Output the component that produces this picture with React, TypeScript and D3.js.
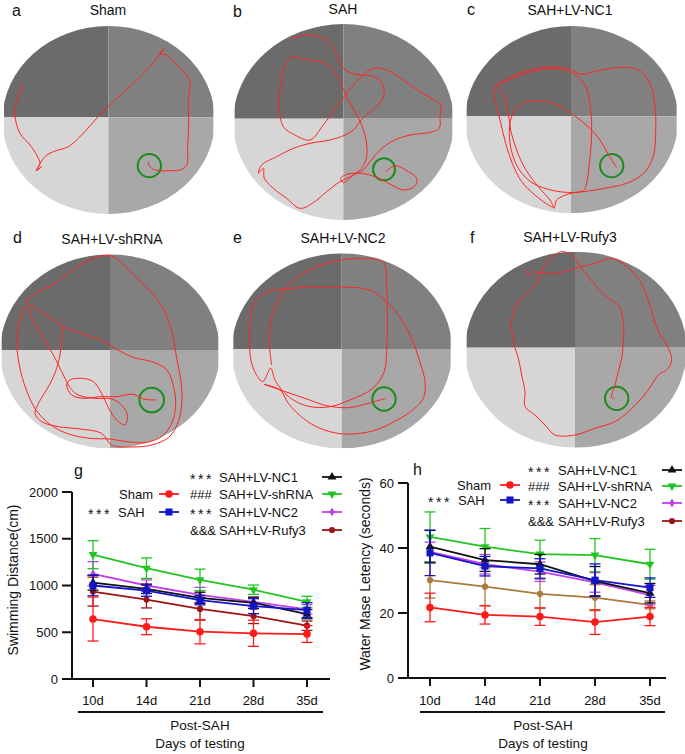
import React from 'react';
import * as d3 from 'd3';

// ---------- data ----------
const days = ['10d', '14d', '21d', '28d', '35d'];
const distanceTicks = [0, 500, 1000, 1500, 2000];
const latencyTicks = [0, 20, 40, 60];

const groupNames = ['Sham', 'SAH', 'SAH+LV-NC1', 'SAH+LV-shRNA', 'SAH+LV-NC2', 'SAH+LV-Rufy3'];
const groupSig = ['', '***', '***', '###', '***', '&&&'];

// Swimming distance (cm)
const distSham = [641, 559, 506, 489, 481];
const distShamErr = [235, 85, 130, 140, 90];
const distSAH = [1000, 945, 843, 779, 736];
const distSAHErr = [110, 60, 50, 80, 80];
const distNC1 = [1030, 965, 868, 815, 694];
const distNC1Err = [80, 50, 60, 60, 50];
const distShRNA = [1330, 1185, 1060, 955, 825];
const distShRNAErr = [150, 110, 115, 50, 60];
const distNC2 = [1125, 1000, 900, 825, 745];
const distNC2Err = [130, 60, 80, 50, 50];
const distRufy3 = [935, 850, 750, 673, 570];
const distRufy3Err = [155, 90, 120, 80, 50];

// Water maze latency (s)
const latSham = [21.7, 19.4, 18.9, 17.2, 18.9];
const latShamErr = [4.4, 2.8, 2.7, 3.8, 2.8];
const latSAH = [38.5, 34.4, 33.7, 30.1, 27.8];
const latSAHErr = [7, 3, 3, 5, 3];
const latNC1 = [40.4, 36.3, 35.0, 29.8, 26.1];
const latNC1Err = [5, 3.5, 3, 4.5, 3];
const latShRNA = [43.4, 40.4, 38.1, 37.8, 35.0];
const latShRNAErr = [7.7, 5.6, 4.3, 5.1, 4.6];
const latNC2 = [38.8, 35.0, 32.7, 29.4, 25.5];
const latNC2Err = [3, 3, 3, 3, 3];
const latRufy3 = [30.1, 28.1, 25.9, 24.7, 22.5];
const latRufy3Err = [5.5, 5.8, 4.5, 4, 1.2];

// Tracking data: swim paths in camera frame coordinates (0..690)
const poolTitles = ['Sham', 'SAH', 'SAH+LV-NC1', 'SAH+LV-shRNA', 'SAH+LV-NC2', 'SAH+LV-Rufy3'];
const panelLetters = ['a', 'b', 'c', 'd', 'e', 'f'];

const trackA = [[70,250],[55,285],[45,345],[60,400],[90,435],[110,465],[120,490],[108,512],[125,500],[112,508],[135,470],[160,455],[205,440],[245,405],[290,355],[340,305],[395,255],[445,205],[478,165],[492,145],[480,162],[500,165],[530,195],[555,220],[570,242],[565,300],[566,370],[563,440],[560,495],[540,510],[505,512],[475,512],[455,505],[445,492],[447,485]];
const trackB = [[185,115],[230,105],[275,112],[305,135],[322,170],[340,205],[375,222],[425,228],[455,248],[462,285],[445,315],[420,335],[395,358],[372,388],[345,405],[300,420],[240,430],[190,445],[140,470],[95,495],[85,520],[100,505],[103,535],[130,565],[170,595],[210,625],[250,608],[290,575],[330,545],[370,525],[395,505],[410,470],[408,420],[395,375],[375,335],[350,290],[330,245],[305,205],[270,185],[220,178],[185,170],[165,195],[152,250],[148,320],[160,380],[195,405],[240,420],[280,375],[320,320],[350,280],[390,235],[430,205],[470,210],[520,240],[570,275],[612,300],[632,315],[630,350],[628,385],[595,398],[540,405],[490,422],[450,450],[420,485],[400,510],[370,525],[340,548],[332,535],[355,522],[395,520],[440,532],[480,552],[520,570],[555,558],[560,535],[530,512],[495,497],[468,515]];
const trackC = [[300,625],[280,615],[240,585],[200,545],[172,490],[152,430],[135,360],[120,300],[118,262],[135,250],[180,225],[235,208],[300,200],[350,210],[375,222],[440,210],[500,202],[550,210],[585,250],[600,320],[602,400],[595,468],[568,518],[520,548],[460,563],[400,573],[348,580],[305,600],[298,622],[285,600],[250,560],[210,505],[185,450],[168,395],[160,340],[150,290],[128,255],[150,245],[200,225],[262,208],[320,208],[362,225],[390,255],[405,310],[410,375],[408,440],[402,500],[395,548],[385,572],[335,577],[280,568],[228,546],[190,505],[170,455],[163,400],[170,350],[192,318],[230,302],[275,305],[320,322],[362,350],[402,382],[435,420],[458,460],[478,492],[485,503]];
const trackD = [[188,300],[183,370],[170,430],[148,480],[118,530],[105,565],[125,590],[175,605],[240,612],[305,625],[335,660],[395,666],[455,660],[505,638],[532,598],[545,540],[543,470],[530,400],[518,330],[498,268],[468,218],[420,168],[378,128],[345,97],[312,92],[262,108],[212,140],[162,178],[115,200],[78,232],[95,242],[135,268],[185,302],[245,326],[305,346],[352,374],[402,398],[455,410],[500,434],[520,482],[527,540],[515,595],[488,632],[440,652],[380,650],[330,642],[270,640],[200,625],[150,598],[108,555],[78,492],[58,420],[50,345],[62,280],[80,245],[100,290],[130,340],[160,390],[185,440],[200,470],[210,488],[235,510],[285,520],[335,522],[365,540],[382,570],[375,600],[350,585],[325,548],[305,505],[280,470],[245,460],[210,465],[200,480],[215,510],[250,520],[300,515],[350,515],[400,508],[430,522],[470,525]];
const trackE = [[125,420],[118,350],[128,265],[165,192],[220,145],[300,112],[408,100],[460,112],[470,180],[472,280],[470,380],[462,442],[428,490],[360,525],[300,545],[240,545],[195,528],[160,500],[135,465],[122,430],[98,470],[68,425],[58,350],[62,280],[75,228],[115,200],[185,190],[255,186],[335,186],[420,196],[480,240],[520,292],[550,352],[570,412],[585,470],[580,520],[542,560],[492,590],[438,615],[380,626],[330,626],[270,610],[220,580],[175,535],[150,495],[102,478],[160,498],[225,520],[290,542],[355,548],[415,535],[450,525],[468,520]];
const trackF = [[212,135],[222,152],[232,142],[280,145],[330,140],[380,125],[430,112],[470,100],[510,120],[550,160],[575,210],[590,260],[610,320],[635,360],[650,400],[640,430],[610,450],[590,480],[560,520],[520,560],[480,590],[420,610],[360,630],[300,630],[270,600],[240,570],[210,545],[210,500],[200,450],[190,400],[175,350],[170,290],[180,250],[200,220],[240,180],[270,120],[300,90],[320,80],[350,90],[380,130],[420,180],[460,220],[490,240],[505,290],[505,350],[500,400],[490,440],[480,480],[470,518],[478,520]];
const tracks = [trackA, trackB, trackC, trackD, trackE, trackF];
// platform (goal) position in camera frame: x, y, radius
const goals = [[448,497,35],[462,508,33],[470,497,35],[455,525,37],[462,522,35],[485,520,35]];

// ---------- layout ----------
const FONT = 'Liberation Sans, Arial, Helvetica, sans-serif';
const poolLayout = [
  { ox: 0, oy: 0, left: 12, right: 640, top: 78, bottom: 642, divX: 325, divY: 352, titleX: 108, titleY: 15, letterX: 12, letterY: 16 },
  { ox: 230, oy: 0, left: 14, right: 667, top: 72, bottom: 660, divX: 340, divY: 356, titleX: 343, titleY: 14, letterX: 233, letterY: 17 },
  { ox: 455, oy: 0, left: 35, right: 665, top: 78, bottom: 640, divX: 348, divY: 349, titleX: 570, titleY: 15, letterX: 467, letterY: 15 },
  { ox: 0, oy: 225, left: 5, right: 655, top: 88, bottom: 670, divX: 330, divY: 375, titleX: 112, titleY: 244, letterX: 13, letterY: 243 },
  { ox: 230, oy: 225, left: 10, right: 662, top: 85, bottom: 670, divX: 335, divY: 372, titleX: 343, titleY: 243, letterX: 233, letterY: 243 },
  { ox: 455, oy: 225, left: 35, right: 690, top: 80, bottom: 668, divX: 360, divY: 368, titleX: 570, titleY: 242, letterX: 470, letterY: 243 },
];

function Pool({ idx }: { idx: number }) {
  const L = poolLayout[idx];
  const sx = d3.scaleLinear().domain([0, 690]).range([L.ox, L.ox + 230]);
  const sy = d3.scaleLinear().domain([0, 690]).range([L.oy, L.oy + 230]);
  const x0 = sx(L.left), x1 = sx(L.right), y0 = sy(L.top), y1 = sy(L.bottom);
  const dx = sx(L.divX), dy = sy(L.divY);
  const cx = (x0 + x1) / 2, cy = (y0 + y1) / 2;
  const rx = ((x1 - x0) / 2) * 1.015, ry = (y1 - y0) / 2;
  const clipId = `poolclip${idx}`;
  const line = d3.line<number[]>().x(d => sx(d[0])).y(d => sy(d[1])).curve(d3.curveCatmullRom.alpha(0.5));
  const g = goals[idx];
  return (
    <g>
      <defs>
        <clipPath id={clipId}>
          <ellipse cx={cx} cy={cy} rx={rx} ry={ry} />
        </clipPath>
      </defs>
      <g clipPath={`url(#${clipId})`}>
        <rect x={x0} y={y0} width={dx - x0} height={dy - y0} fill="#6b6b6b" />
        <rect x={dx} y={y0} width={x1 - dx} height={dy - y0} fill="#808080" />
        <rect x={x0} y={dy} width={dx - x0} height={y1 - dy} fill="#d6d6d6" />
        <rect x={dx} y={dy} width={x1 - dx} height={y1 - dy} fill="#a8a8a8" />
      </g>
      <circle cx={sx(g[0])} cy={sy(g[1])} r={sx(g[2]) - sx(0)} fill="none" stroke="#1c8c1c" strokeWidth={2} />
      <path d={line(tracks[idx] as number[][]) || ''} fill="none" stroke="#ff2525" strokeWidth={1} />
      <text x={L.titleX} y={L.titleY} textAnchor="middle" fontSize={14} fontFamily={FONT} fill="#111">{poolTitles[idx]}</text>
      <text x={L.letterX} y={L.letterY} fontSize={16} fontFamily={FONT} fill="#111">{panelLetters[idx]}</text>
    </g>
  );
}

// ---------- charts ----------
const colors = ['#ff1a1a', '#1414c8', '#111111', '#22c422', '#c040f0', '#9e1414'];
const symbols = [d3.symbolCircle, d3.symbolSquare, d3.symbolTriangle, d3.symbolTriangle, d3.symbolDiamond, d3.symbolCircle];
const symSizes = [45, 50, 34, 34, 24, 30];
const symRot = [0, 0, 0, 180, 0, 0];

function Marker({ i, x, y, color }: { i: number; x: number; y: number; color: string }) {
  const p = d3.symbol().type(symbols[i]).size(symSizes[i])() || '';
  return <path d={p} transform={`translate(${x},${y}) rotate(${symRot[i]})`} fill={color} />;
}

function Sig({ x, y, s }: { x: number; y: number; s: string }) {
  if (s === '***') {
    return <text x={x} y={y + 6.5} fontSize={14} letterSpacing={2.5}>{s}</text>;
  }
  return <text x={x} y={y} dy="0.35em" fontSize={13}>{s}</text>;
}

type ChartCfg = {
  values: number[][]; errors: number[][]; lineColors: string[];
  yDomain: [number, number]; yRange: [number, number]; xRange: [number, number];
  ticks: number[]; axisX: number; xAxisStart: number; xAxisEnd: number;
  label: string; labelX: number; labelY: number; letter: string; letterX: number; letterY: number;
  bracket: [number, number]; textX: number;
  rightPrefixX: number; rightNameX: number; rightMarkerX: number; rightRows: number[];
  leftMarkerX: number; shamEnd: number; shamY: number; sahPrefixX: number; sahNameX: number; sahY: number;
};

function Chart({ cfg }: { cfg: ChartCfg }) {
  const x = d3.scalePoint<string>().domain(days).range(cfg.xRange);
  const y = d3.scaleLinear().domain(cfg.yDomain).range(cfg.yRange);
  const baseY = y(0);
  const line = d3.line<number>().x((_, i) => x(days[i]) as number).y(d => y(d));
  const drawOrder = [5, 4, 3, 2, 1, 0];
  const rightGroups = [2, 3, 4, 5];
  return (
    <g fontFamily={FONT} fill="#111">
      <text x={cfg.letterX} y={cfg.letterY} fontSize={16}>{cfg.letter}</text>
      {/* axes */}
      <line x1={cfg.axisX} x2={cfg.axisX} y1={y(cfg.yDomain[1])} y2={baseY} stroke="#111" strokeWidth={2} />
      <line x1={cfg.xAxisStart} x2={cfg.xAxisEnd} y1={baseY} y2={baseY} stroke="#111" strokeWidth={2} />
      {cfg.ticks.map(t => (
        <g key={t}>
          <line x1={cfg.axisX - 10} x2={cfg.axisX} y1={y(t)} y2={y(t)} stroke="#111" strokeWidth={2} />
          <text x={cfg.axisX - 14} y={y(t)} dy="0.35em" textAnchor="end" fontSize={13}>{t}</text>
        </g>
      ))}
      {days.map(d => (
        <g key={d}>
          <line x1={x(d)} x2={x(d)} y1={baseY} y2={baseY + 8} stroke="#111" strokeWidth={2} />
          <text x={x(d)} y={705} textAnchor="middle" fontSize={13}>{d}</text>
        </g>
      ))}
      <line x1={cfg.bracket[0]} x2={cfg.bracket[1]} y1={712} y2={712} stroke="#111" strokeWidth={1.8} />
      <text x={cfg.textX} y={730} textAnchor="middle" fontSize={13.5}>Post-SAH</text>
      <text x={cfg.textX} y={748} textAnchor="middle" fontSize={13.5}>Days of testing</text>
      <text transform={`translate(${cfg.labelX},${cfg.labelY}) rotate(-90)`} textAnchor="middle" dy="0.35em" fontSize={14}>{cfg.label}</text>
      {/* series */}
      {drawOrder.map(gi => {
        const vals = cfg.values[gi];
        const errs = cfg.errors[gi];
        const c = cfg.lineColors[gi];
        return (
          <g key={gi}>
            <path d={line(vals) || ''} fill="none" stroke={c} strokeWidth={1.8} />
            {vals.map((v, i) => {
              const xx = x(days[i]) as number;
              return (
                <g key={i}>
                  <line x1={xx} x2={xx} y1={y(v - errs[i])} y2={y(v + errs[i])} stroke={c} strokeWidth={1.3} />
                  <line x1={xx - 5.5} x2={xx + 5.5} y1={y(v + errs[i])} y2={y(v + errs[i])} stroke={c} strokeWidth={1.3} />
                  <line x1={xx - 5.5} x2={xx + 5.5} y1={y(v - errs[i])} y2={y(v - errs[i])} stroke={c} strokeWidth={1.3} />
                  <Marker i={gi} x={xx} y={y(v)} color={c} />
                </g>
              );
            })}
          </g>
        );
      })}
      {/* legend */}
      <text x={cfg.shamEnd} y={cfg.shamY} dy="0.35em" textAnchor="end" fontSize={13}>{groupNames[0]}</text>
      <line x1={cfg.leftMarkerX - 10} x2={cfg.leftMarkerX + 10} y1={cfg.shamY} y2={cfg.shamY} stroke={colors[0]} strokeWidth={1.8} />
      <Marker i={0} x={cfg.leftMarkerX} y={cfg.shamY} color={colors[0]} />
      <Sig x={cfg.sahPrefixX} y={cfg.sahY} s={groupSig[1]} />
      <text x={cfg.sahNameX} y={cfg.sahY} dy="0.35em" fontSize={13}>{groupNames[1]}</text>
      <line x1={cfg.leftMarkerX - 10} x2={cfg.leftMarkerX + 10} y1={cfg.sahY} y2={cfg.sahY} stroke={colors[1]} strokeWidth={1.8} />
      <Marker i={1} x={cfg.leftMarkerX} y={cfg.sahY} color={colors[1]} />
      {rightGroups.map((gi, r) => (
        <g key={gi}>
          <Sig x={cfg.rightPrefixX} y={cfg.rightRows[r]} s={groupSig[gi]} />
          <text x={cfg.rightNameX} y={cfg.rightRows[r]} dy="0.35em" fontSize={13}>{groupNames[gi]}</text>
          <line x1={cfg.rightMarkerX - 10} x2={cfg.rightMarkerX + 10} y1={cfg.rightRows[r]} y2={cfg.rightRows[r]} stroke={colors[gi]} strokeWidth={1.8} />
          <Marker i={gi} x={cfg.rightMarkerX} y={cfg.rightRows[r]} color={colors[gi]} />
        </g>
      ))}
    </g>
  );
}

const chartG: ChartCfg = {
  values: [distSham, distSAH, distNC1, distShRNA, distNC2, distRufy3],
  errors: [distShamErr, distSAHErr, distNC1Err, distShRNAErr, distNC2Err, distRufy3Err],
  lineColors: colors,
  yDomain: [0, 2000], yRange: [679, 492], xRange: [93, 307], ticks: distanceTicks,
  axisX: 72, xAxisStart: 63, xAxisEnd: 330,
  label: 'Swimming Distance(cm)', labelX: 13, labelY: 580, letter: 'g', letterX: 74, letterY: 476,
  bracket: [78, 323], textX: 200,
  rightPrefixX: 190, rightNameX: 219, rightMarkerX: 332, rightRows: [477, 494, 512, 530],
  leftMarkerX: 169, shamEnd: 153, shamY: 494, sahPrefixX: 88, sahNameX: 118, sahY: 512,
};

const chartH: ChartCfg = {
  values: [latSham, latSAH, latNC1, latShRNA, latNC2, latRufy3],
  errors: [latShamErr, latSAHErr, latNC1Err, latShRNAErr, latNC2Err, latRufy3Err],
  lineColors: [colors[0], colors[1], colors[2], colors[3], colors[4], '#a87a3c'],
  yDomain: [0, 60], yRange: [678, 483], xRange: [430, 650], ticks: latencyTicks,
  axisX: 408, xAxisStart: 400, xAxisEnd: 666,
  label: 'Water Mase Letency (seconds)', labelX: 365, labelY: 574, letter: 'h', letterX: 413, letterY: 475,
  bracket: [420, 665], textX: 543,
  rightPrefixX: 528, rightNameX: 558, rightMarkerX: 672, rightRows: [470, 486, 503, 521],
  leftMarkerX: 510, shamEnd: 491, shamY: 485, sahPrefixX: 428, sahNameX: 458, sahY: 500,
};

export default function App() {
  return (
    <svg width={685} height={754} viewBox="0 0 685 754"
      style={{ position: 'absolute', left: 0, top: 0, background: '#fff' }}>
      <rect x={0} y={0} width={685} height={754} fill="#fff" />
      {poolLayout.map((_, i) => <Pool key={i} idx={i} />)}
      <Chart cfg={chartG} />
      <Chart cfg={chartH} />
    </svg>
  );
}
